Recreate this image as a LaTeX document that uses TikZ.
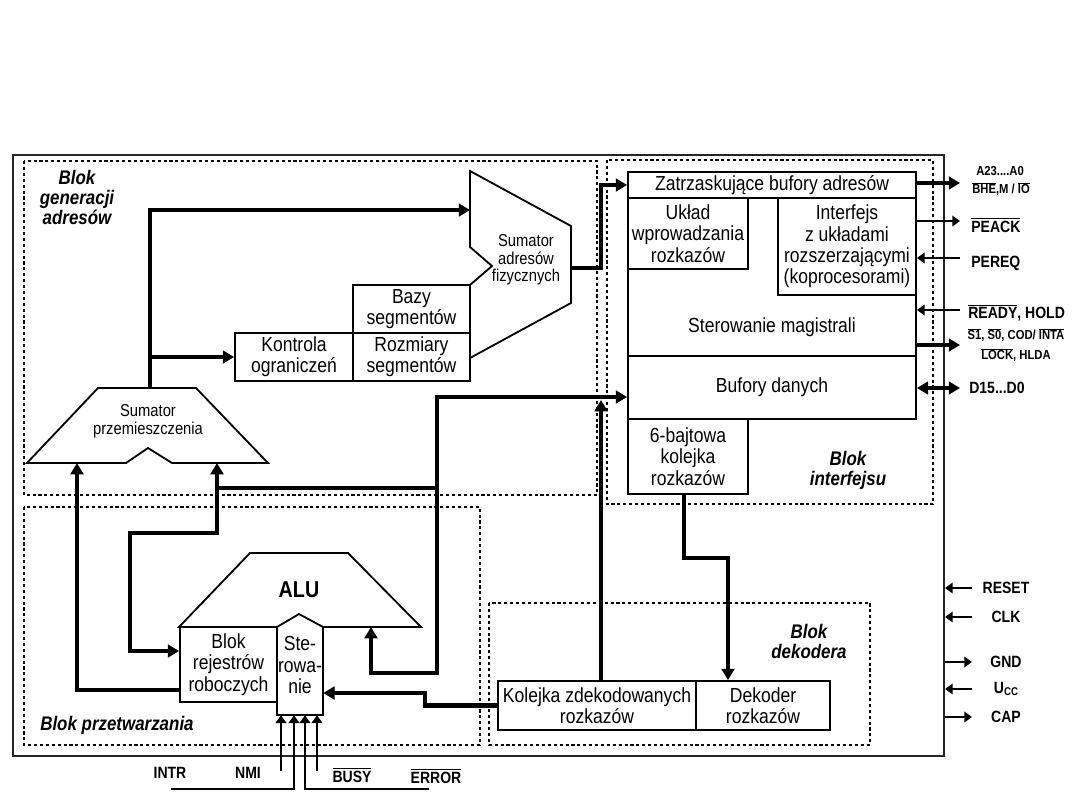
\documentclass[tikz,border=0pt]{standalone}
\usepackage{fontspec}
\setmainfont{Liberation Sans}[FakeStretch=0.86]
\usetikzlibrary{arrows.meta}
\newdimen\pxu \pxu=0.025cm
\newcommand\ovl[1]{$\overline{\hbox{#1}}$}
\tikzset{
  box/.style={draw, line width=1.3pt, inner sep=0pt, align=center, font=\fontsize{14.5}{15.2}\selectfont},
  txt/.style={inner sep=0pt, align=center, font=\fontsize{14.5}{15.2}\selectfont},
  smalltxt/.style={inner sep=0pt, align=center, font=\fontsize{12.2}{12.6}\selectfont},
  blok/.style={inner sep=0pt, align=center, font=\fontsize{14}{14.2}\bfseries\itshape\selectfont},
  sig/.style={inner sep=0pt, font=\fontsize{11.6}{12}\bfseries\selectfont},
  sigs/.style={inner sep=0pt, font=\fontsize{9.3}{9.5}\bfseries\selectfont},
  area/.style={line width=1.5pt, dash pattern=on 2.2pt off 2pt},
  outline/.style={line width=1.3pt},
  busl/.style={line width=3.2pt},
  bus/.style={busl, -{Triangle[length=8pt,width=9pt]}},
  wire/.style={line width=1.4pt, -{Triangle[length=5.5pt,width=7.5pt]}},
}
\begin{document}
\begin{tikzpicture}[x=0.025cm, y=-0.025cm]
\useasboundingbox (0,0) rectangle (1080,810);
\draw[line width=1.2pt, black!85] (13,155) rectangle (944,756);
\draw[area] (24,161) rectangle (597,495);
\draw[area] (607,160) rectangle (933,504);
\draw[area] (24,507) rectangle (480,745);
\draw[area] (489,603) rectangle (870,745);
\node[blok] (lgen) at (77,197) {Blok\\generacji\\adresów};
\node[blok] (lint) at (848,470) {Blok\\interfejsu};
\node[blok] (ldek) at (809,641) {Blok\\dekodera};
\node[blok, anchor=west] (lprz) at (40,725) {Blok przetwarzania};

\node[box, minimum width=288\pxu, minimum height=26\pxu] (zatrz) at (772,185) {Zatrzaskujące bufory adresów};
\node[box, minimum width=288\pxu, minimum height=158\pxu] (magis) at (772,277) {};
\node[txt] (magtxt) at (772,327) {Sterowanie magistrali};
\node[box, minimum width=120\pxu, minimum height=71\pxu] (uklad) at (688,233.5) {Układ\\wprowadzania\\rozkazów};
\node[box, minimum width=138\pxu, minimum height=97\pxu] (kopr) at (847,246.5) {Interfejs\\z układami\\rozszerzającymi\\(koprocesorami)};
\node[box, minimum width=288\pxu, minimum height=63\pxu] (bufd) at (772,387.5) {Bufory danych};
\node[box, minimum width=120\pxu, minimum height=75\pxu] (kol6) at (688,456.5) {6-bajtowa\\kolejka\\rozkazów};

\node[box, minimum width=198\pxu, minimum height=49\pxu] (kolz) at (597,705.5) {Kolejka zdekodowanych\\rozkazów};
\node[box, minimum width=134\pxu, minimum height=49\pxu] (dek) at (763,705.5) {Dekoder\\rozkazów};

\node[box, minimum width=118\pxu, minimum height=48\pxu] (kontr) at (294,357) {Kontrola\\ograniczeń};
\node[box, minimum width=117\pxu, minimum height=48\pxu] (bazy) at (411.5,309) {Bazy\\segmentów};
\node[box, minimum width=117\pxu, minimum height=48\pxu] (rozm) at (411.5,357) {Rozmiary\\segmentów};

\draw[outline] (470,171) -- (571,226) -- (571,303) -- (470,358) -- (470,285) -- (492,266) -- (470,247) -- cycle;
\node[smalltxt] (sadr) at (526,260) {Sumator\\adresów\\fizycznych};
\draw[outline] (98,388) -- (196,388) -- (268,463) -- (172,463) -- (148,448) -- (126,463) -- (27,463) -- cycle;
\node[smalltxt] (sprz) at (148,421) {Sumator\\przemieszczenia};

\draw[outline] (179,627) -- (250,553) -- (348,553) -- (421,627) -- (323,627) -- (299,614) -- (277,627) -- cycle;
\node[inner sep=0pt, font=\fontsize{16.3}{17}\bfseries\selectfont] (alu) at (299,590) {ALU};
\node[box, minimum width=97\pxu, minimum height=75\pxu] (rej) at (228.5,664.5) {Blok\\rejestrów\\roboczych};
\node[txt, minimum width=46\pxu, minimum height=88\pxu] (ster) at (300,671) {};
\draw[outline] (ster.north west) -- (ster.south west) -- (ster.south east) -- (ster.north east);
\node[txt] (stertxt) at (300,665) {Ste-\\rowa-\\nie};

\coordinate (sadrin) at (470,210);
\coordinate (sadrout) at (571,268);
\coordinate (sprztop) at (150,388);
\coordinate (sprzinl) at (77,463);
\coordinate (sprzinr) at (217,463);
\coordinate (aluin) at (371,627);
\coordinate (jkon) at (150,357);
\coordinate (jsum) at (601,268);
\coordinate (jbuf) at (437,397);
\coordinate (jbus) at (437,488);
\coordinate (jreg) at (217,488);
\coordinate (jalu) at (371,673);
\coordinate (jk) at (601,400);
\coordinate (jr1) at (130,533);
\coordinate (jr2) at (130,651);
\coordinate (jrl) at (77,690);
\coordinate (jst) at (425,693);
\coordinate (jd1) at (684,558);
\coordinate (jd2) at (728,558);

\draw[bus] (sprztop) -- (sprztop |- sadrin) -- (sadrin);
\draw[bus] (jkon) -- (kontr.west);
\draw[bus] (sadrout) -- (jsum) -- (jsum |- zatrz.west) -- (zatrz.west);
\draw[bus] (jbus) -- (jbuf) -- (bufd.west |- jbuf);
\draw[bus] (kolz.north -| jk) -- (jk);
\draw[bus] (jreg) -- (jbus) -- (jbus |- jalu) -- (jalu) -- (aluin);
\draw[bus] (jreg) -- (sprzinr);
\draw[bus] (jreg) -- (jreg |- jr1) -- (jr1) -- (jr2) -- (rej.west |- jr2);
\draw[bus] (rej.west |- jrl) -- (jrl) -- (sprzinl);
\draw[bus] (kolz.west) -- (jst |- kolz.west) -- (jst) -- (ster.east |- jst);
\draw[bus] (kol6.south -| jd1) -- (jd1) -- (jd2) -- (dek.north -| jd2);

\coordinate (pa) at (960,183);
\coordinate (pk) at (960,221);
\coordinate (pr) at (960,258);
\coordinate (rd) at (960,310);
\coordinate (st) at (960,345);
\coordinate (dd) at (960,388);
\draw[bus] (zatrz.east |- pa) -- (pa);
\draw[wire] (kopr.east |- pk) -- (pk);
\draw[wire] (pr) -- (kopr.east |- pr);
\draw[wire] (rd) -- (magis.east |- rd);
\draw[bus] (magis.east |- st) -- (st);
\draw[busl, {Triangle[length=8pt,width=9pt]}-{Triangle[length=8pt,width=9pt]}] (bufd.east |- dd) -- (dd);
\node[sigs] (a23) at (1000,171) {A23....A0};
\node[sigs] (bhe) at (1001,189) {\ovl{BHE},M / \ovl{IO}};
\node[sig, anchor=west] (peack) at (971,225) {\ovl{PEACK}};
\node[sig, anchor=west] (pereq) at (971,263) {PEREQ};
\node[sig, anchor=west] (ready) at (968,313) {\ovl{READY}, HOLD};
\node[sigs] (s10) at (1016,335) {\ovl{S1}, \ovl{S0}, COD/ \ovl{INTA}};
\node[sigs] (lock) at (1016,355) {\ovl{LOCK}, HLDA};
\node[sig, anchor=west] (dat) at (969,388) {D15...D0};

\coordinate (pinx) at (972,0);
\coordinate (edge) at (945,0);
\node[sig] (reset) at (1006,588) {RESET};
\node[sig] (clk) at (1006,617) {CLK};
\node[sig] (gnd) at (1006,662) {GND};
\node[sig] (ucc) at (1006,689) {U{\fontsize{8}{9}\selectfont\raisebox{-2pt}{CC}}};
\node[sig] (cap) at (1006,717) {CAP};
\draw[wire] (reset -| pinx) -- (reset -| edge);
\draw[wire] (clk -| pinx) -- (clk -| edge);
\draw[wire] (gnd -| edge) -- (gnd -| pinx);
\draw[wire] (ucc -| pinx) -- (ucc -| edge);
\draw[wire] (cap -| edge) -- (cap -| pinx);

\node[sig] (intr) at (170,773) {INTR};
\node[sig] (nmi) at (248,773) {NMI};
\node[sig] (busy) at (352,775) {\ovl{BUSY}};
\node[sig] (err) at (436,776) {\ovl{ERROR}};
\coordinate (in1) at (281,771);
\coordinate (in2) at (294,789);
\coordinate (in3) at (305,789);
\coordinate (in4) at (317,771);
\coordinate (l1) at (171,789);
\coordinate (l2) at (429,789);
\draw[wire] (in1) -- (ster.south -| in1);
\draw[wire] (l1) -- (in2) -- (ster.south -| in2);
\draw[wire] (l2) -- (in3) -- (ster.south -| in3);
\draw[wire] (in4) -- (ster.south -| in4);
\end{tikzpicture}
\end{document}
